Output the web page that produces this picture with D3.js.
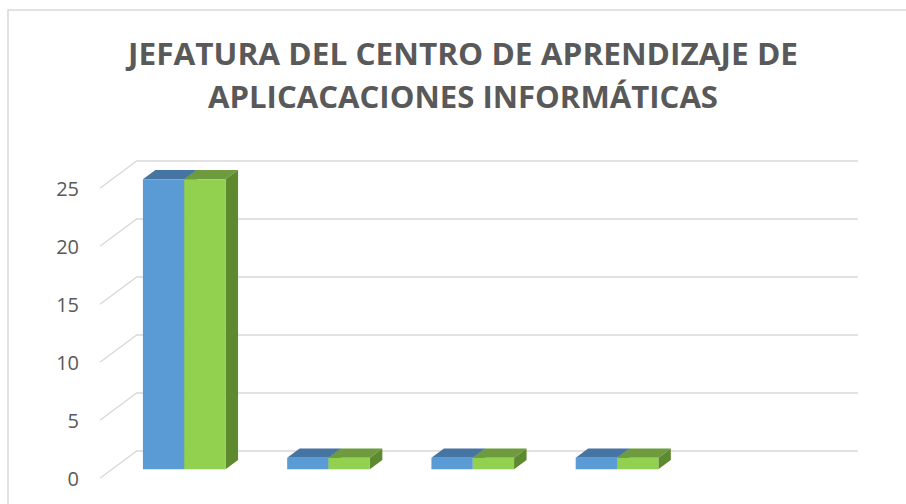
<!DOCTYPE html>
<html>
<head>
<meta charset="utf-8">
<script src="https://cdn.jsdelivr.net/npm/d3@7"></script>
<style>
  body { margin: 0; background: #fff; }
  svg { display: block; }
</style>
</head>
<body>
<svg id="chart"></svg>
<script>
// data
var categories = ["1", "2", "3", "4", "5"];
var seriesNames = ["Serie 1", "Serie 2"];
var serie1 = [25, 1, 1, 1, null];
var serie2 = [25, 1, 1, 1, null];
var tickValues = [0, 5, 10, 15, 20, 25];
var titleLines = ["JEFATURA DEL CENTRO DE APRENDIZAJE DE", "APLICACACIONES INFORMÁTICAS"];

var width = 906, height = 504;

// face colours for each series: front, top, side
var colorFront = ["#5b9bd5", "#92d050"];
var colorTop = ["#4675a3", "#6e9b3e"];
var colorSide = ["#3f6a94", "#5e8a2f"];

var svg = d3.select("#chart")
    .attr("width", width)
    .attr("height", height);

// chart border (runs off the right and bottom edges)
svg.append("rect")
    .attr("x", 8).attr("y", 10)
    .attr("width", 1000).attr("height", 600)
    .attr("fill", "none")
    .attr("stroke", "#d9d9d9")
    .attr("stroke-width", 1.5);

// title
svg.selectAll("text.title")
    .data(titleLines)
    .enter()
    .append("text")
    .attr("class", "title")
    .attr("x", 463)
    .attr("y", function (d, i) { return 65 + i * 43.3; })
    .attr("text-anchor", "middle")
    .attr("textLength", function (d, i) { return i === 0 ? 670 : 510; })
    .attr("lengthAdjust", "spacingAndGlyphs")
    .style("font-family", "'Open Sans', sans-serif")
    .style("font-weight", "700")
    .style("font-size", "30px")
    .style("fill", "#595959")
    .text(function (d) { return d; });

// back wall scales
var y = d3.scaleLinear().domain([0, 25]).range([451, 161]);
var x = d3.scaleBand()
    .domain(categories)
    .range([136.7, 858])
    .paddingInner(0.427)
    .paddingOuter(0.2135);
var xs = d3.scaleBand()
    .domain(seriesNames)
    .range([0, x.bandwidth()]);

// oblique depth: t = 0 is the back wall, t = 1 the front edge
var depth = [-36.7, 27.3];
function P(xb, v, t) {
    return [xb + t * depth[0], y(v) + t * depth[1]];
}

// gridlines: slanted piece on the side wall, then along the back wall
var xMin = 136.7, xMax = 858;
svg.append("g")
    .selectAll("polyline")
    .data(tickValues)
    .enter()
    .append("polyline")
    .attr("points", function (v) {
        return [P(xMin, v, 1), P(xMin, v, 0), P(xMax, v, 0)].join(" ");
    })
    .attr("fill", "none")
    .attr("stroke", "#d9d9d9")
    .attr("stroke-width", 1.3);

// y tick labels sit at the front of the side wall
svg.append("g")
    .selectAll("text")
    .data(tickValues)
    .enter()
    .append("text")
    .attr("x", 79)
    .attr("y", function (v) { return P(xMin, v, 1)[1] + 1; })
    .attr("dy", "0.35em")
    .attr("text-anchor", "end")
    .style("font-family", "'Open Sans', sans-serif")
    .style("font-size", "20px")
    .style("fill", "#595959")
    .text(function (v) { return v; });

// bars as 3d boxes
var tFront = 0.67, tBack = 0.33;
var allSeries = [serie1, serie2];
var boxes = [];
categories.forEach(function (c, ci) {
    allSeries.forEach(function (vals, si) {
        if (vals[ci] == null) return;
        boxes.push({ cat: c, s: si, v: vals[ci] });
    });
});

var line = d3.line();
var gBars = svg.append("g");
boxes.forEach(function (b) {
    var x0 = x(b.cat) + xs(seriesNames[b.s]);
    var x1 = x0 + xs.bandwidth();
    var g = gBars.append("g");
    g.append("path")
        .attr("d", line([P(x0, b.v, tFront), P(x1, b.v, tFront), P(x1, b.v, tBack), P(x0, b.v, tBack)]) + "Z")
        .attr("fill", colorTop[b.s]);
    g.append("path")
        .attr("d", line([P(x1, 0, tFront), P(x1, 0, tBack), P(x1, b.v, tBack), P(x1, b.v, tFront)]) + "Z")
        .attr("fill", colorSide[b.s]);
    g.append("path")
        .attr("d", line([P(x0, 0, tFront), P(x1, 0, tFront), P(x1, b.v, tFront), P(x0, b.v, tFront)]) + "Z")
        .attr("fill", colorFront[b.s]);
});
</script>
</body>
</html>
